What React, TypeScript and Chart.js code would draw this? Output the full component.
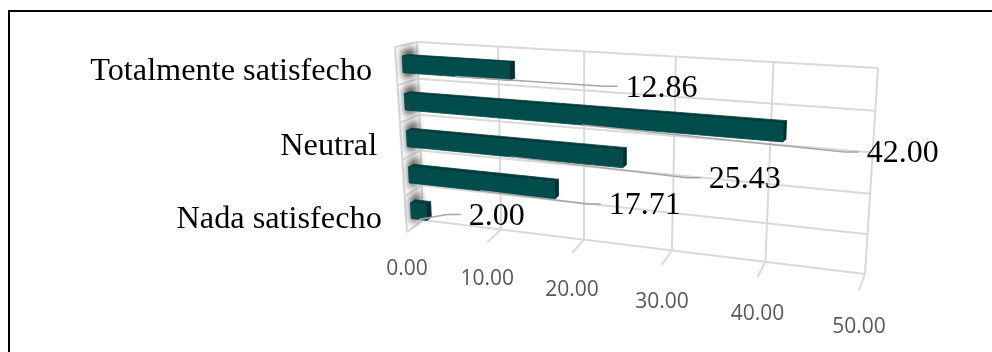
import React, { useEffect, useRef } from "react";
import { Chart, registerables } from "chart.js";

Chart.register(...registerables);

const categories = ["Totalmente satisfecho", "", "Neutral", "", "Nada satisfecho"];
const values = [12.86, 42.0, 25.43, 17.71, 2.0];
const axisMax = 50;
const axisStep = 10;

// Leader-line end and bend, measured from the lower corner of each bar's tip.
const leaderEnds = [[108, 6], [76, 10], [78, 10], [46, 5], [34, -6]];

const BAR_COLOR = "#004d4b";
const BAR_TOP = "#003d3c";
const BAR_END = "#002f2f";
const GRID = "#d9d9d9";
const LEADER = "#a6a6a6";
const TICK_TEXT = "#595959";
const SERIF = '"Liberation Serif", serif';
const SANS = '"Open Sans", sans-serif';

type Pt = [number, number];

// Corners of the chart box on screen, ordered TL, TR, BR, BL.
const backPlane: Pt[] = [[417, 42], [878, 68], [865, 274], [423, 220]];
const frontPlane: Pt[] = [[395, 47], [866, 77], [859, 290], [407, 232]];

// Depth of the bars inside the box: 0 at the back wall, 1 at the front.
const BAR_FRONT = 0.7;
const BAR_BACK = 0.42;

// Solves the unit-square homography for four corners.
function homography(q: Pt[]) {
  const [[x0, y0], [x1, y1], [x2, y2], [x3, y3]] = q;
  const dx1 = x1 - x2, dx2 = x3 - x2, sx = x0 - x1 + x2 - x3;
  const dy1 = y1 - y2, dy2 = y3 - y2, sy = y0 - y1 + y2 - y3;
  const det = dx1 * dy2 - dx2 * dy1;
  const g = (sx * dy2 - dx2 * sy) / det;
  const h = (dx1 * sy - sx * dy1) / det;
  const a = x1 - x0 + g * x1, b = x3 - x0 + h * x3, c = x0;
  const d = y1 - y0 + g * y1, e = y3 - y0 + h * y3, f = y0;
  return (u: number, v: number): Pt => {
    const w = g * u + h * v + 1;
    return [(a * u + b * v + c) / w, (d * u + e * v + f) / w];
  };
}

const backH = homography(backPlane);
const frontH = homography(frontPlane);

function project(u: number, v: number, depth: number): Pt {
  const p = backH(u, v);
  const q = frontH(u, v);
  return [p[0] + (q[0] - p[0]) * depth, p[1] + (q[1] - p[1]) * depth];
}

function poly(ctx: CanvasRenderingContext2D, pts: Pt[], color: string, seal = false) {
  ctx.beginPath();
  pts.forEach((p, i) => (i ? ctx.lineTo(p[0], p[1]) : ctx.moveTo(p[0], p[1])));
  ctx.closePath();
  ctx.fillStyle = color;
  ctx.fill();
  if (seal) {
    // A hairline of the same colour closes the seam between adjoining faces.
    ctx.strokeStyle = color;
    ctx.lineWidth = 0.8;
    ctx.stroke();
  }
}

function line(ctx: CanvasRenderingContext2D, pts: Pt[]) {
  ctx.beginPath();
  pts.forEach((p, i) => (i ? ctx.lineTo(p[0], p[1]) : ctx.moveTo(p[0], p[1])));
  ctx.stroke();
}

const perspectivePlugin = {
  id: "perspectiveBox",
  beforeDatasetsDraw(chart: any) {
    const { ctx, chartArea: area, scales } = chart;
    const toU = (px: number) => (px - area.left) / area.width;
    const toV = (py: number) => (py - area.top) / area.height;
    ctx.save();

    // Frame: only its top and left edges fall on the canvas.
    ctx.strokeStyle = "#000";
    ctx.lineWidth = 2;
    line(ctx, [[9, 352], [9, 11], [992, 11]]);

    ctx.strokeStyle = GRID;
    ctx.lineWidth = 2;
    const xs = scales.x.ticks.map((t: any) => toU(scales.x.getPixelForValue(t.value)));
    xs.forEach((u: number) => {
      line(ctx, [project(u, 0, 0), project(u, 1, 0)]);
      line(ctx, [project(u, 1, 0), project(u, 1, 1)]);
    });
    for (let i = 0; i <= categories.length; i++) {
      const v = toV(scales.y.getPixelForValue(i - 0.5));
      line(ctx, [project(0, v, 1), project(0, v, 0), project(1, v, 0)]);
    }
    line(ctx, [project(0, 0, 1), project(0, 1, 1)]);

    // Soft shadows the bars cast on the side wall.
    const meta = chart.getDatasetMeta(0);
    ctx.filter = "blur(3.5px)";
    meta.data.forEach((bar: any) => {
      const v = toV(bar.y);
      const half = toV(bar.y + bar.height / 2) - v;
      const wall: Pt[] = [
        project(0, v - half * 1.75, 0.1),
        project(0, v - half * 1.75, 0.72),
        project(0, v + half * 1.75, 0.72),
        project(0, v + half * 1.75, 0.1),
      ];
      poly(ctx, wall, "#5a5a5a");
    });
    ctx.filter = "none";

    // Value axis labels sit below the floor lines.
    ctx.fillStyle = TICK_TEXT;
    ctx.font = `21px ${SANS}`;
    ctx.textAlign = "center";
    ctx.textBaseline = "middle";
    scales.x.ticks.forEach((t: any, i: number) => {
      const [x, y] = project(xs[i], 1, 1);
      ctx.fillText(Number(t.value).toFixed(2), x, y + 37);
    });

    // Category labels, right-aligned beside the side wall.
    ctx.fillStyle = "#000";
    ctx.font = `32.3px ${SERIF}`;
    ctx.textAlign = "right";
    categories.forEach((name, i) => {
      if (!name) return;
      const v = toV(scales.y.getPixelForValue(i));
      const [x, y] = project(0, v, 1);
      ctx.fillText(name, x - 24, y + 5);
    });
    ctx.restore();
  },
  beforeDatasetDraw() {
    return false;
  },
  afterDatasetsDraw(chart: any) {
    const { ctx, chartArea: area } = chart;
    const toU = (px: number) => (px - area.left) / area.width;
    const toV = (py: number) => (py - area.top) / area.height;
    const meta = chart.getDatasetMeta(0);
    ctx.save();
    meta.data.forEach((bar: any, i: number) => {
      const u0 = toU(bar.base);
      const u1 = toU(bar.x);
      const top = toV(bar.y - bar.height / 2);
      const bottom = toV(bar.y + bar.height / 2);
      poly(ctx, [project(u0, top, BAR_BACK), project(u1, top, BAR_BACK), project(u1, top, BAR_FRONT), project(u0, top, BAR_FRONT)], BAR_TOP, true);
      poly(ctx, [project(u1, top, BAR_FRONT), project(u1, top, BAR_BACK), project(u1, bottom, BAR_BACK), project(u1, bottom, BAR_FRONT)], BAR_END, true);
      poly(ctx, [project(u0, top, BAR_FRONT), project(u1, top, BAR_FRONT), project(u1, bottom, BAR_FRONT), project(u0, bottom, BAR_FRONT)], BAR_COLOR, true);

      // Leader line from the underside of the bar to its value.
      const start = project((u0 + u1) / 2, bottom, BAR_FRONT);
      const tip = project(u1, bottom, BAR_FRONT);
      const [dx, dy] = leaderEnds[i];
      const end: Pt = [tip[0] + dx, tip[1] + dy];
      ctx.strokeStyle = LEADER;
      ctx.lineWidth = 1.5;
      line(ctx, [start, [end[0] - 14, end[1]], end]);

      ctx.fillStyle = "#000";
      ctx.font = `32px ${SERIF}`;
      ctx.textAlign = "left";
      ctx.textBaseline = "middle";
      ctx.fillText(values[i].toFixed(2), end[0] + 8, end[1] + 2);
    });
    ctx.restore();
  },
};

export default function App() {
  const ref = useRef<HTMLCanvasElement>(null);
  useEffect(() => {
    const chart = new Chart(ref.current as HTMLCanvasElement, {
      type: "bar",
      data: {
        labels: categories,
        datasets: [{ data: values, backgroundColor: BAR_COLOR, categoryPercentage: 1, barPercentage: 0.44 }],
      },
      options: {
        indexAxis: "y",
        animation: false,
        responsive: false,
        layout: { padding: 0 },
        plugins: { legend: { display: false }, tooltip: { enabled: false } },
        scales: {
          x: { display: false, min: 0, max: axisMax, ticks: { stepSize: axisStep } },
          y: { display: false },
        },
      },
      plugins: [perspectivePlugin],
    } as any);
    return () => chart.destroy();
  }, []);
  return (
    <div style={{ position: "fixed", left: 0, top: 0, width: 992, height: 352, background: "#fff" }}>
      <canvas ref={ref} width={992} height={352} style={{ display: "block" }} />
    </div>
  );
}
